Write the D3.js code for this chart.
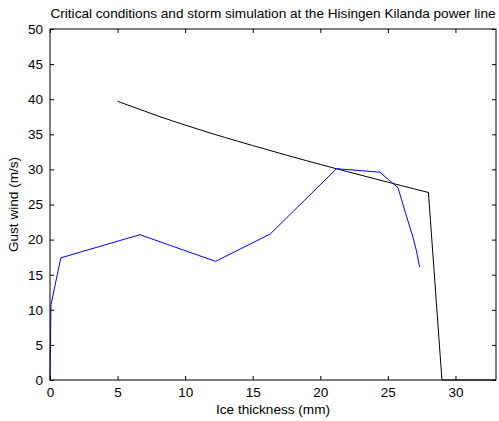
<!DOCTYPE html>
<meta charset="utf-8">
<style>
body { margin: 0; background: #fff; }
svg { display: block; }
text { font-family: "Liberation Sans", Arial, sans-serif; fill: #000; }
</style>
<body>
<script src="https://cdn.jsdelivr.net/npm/d3@7"></script>
<script>

// critical conditions curve (black)
var critIce  = [5, 6, 7, 8, 9, 10, 11, 12, 13, 14, 15, 16, 17, 18, 19, 20, 21, 22, 23, 24, 25, 26, 27, 28, 29, 33];
var critWind = [39.7, 39.0, 38.3, 37.6, 36.95, 36.32, 35.7, 35.1, 34.52, 33.95, 33.4, 32.85, 32.3, 31.76, 31.23, 30.71, 30.19, 29.68, 29.18, 28.68, 28.18, 27.69, 27.2, 26.71, 0, 0];

// storm simulation (blue)
var stormIce  = [0, 0.07, 0.8, 6.65, 12.25, 16.3, 21.2, 24.4, 25.75, 26.35, 26.85, 27.1, 27.35];
var stormWind = [0, 10.7, 17.4, 20.7, 16.9, 20.8, 30.1, 29.6, 27.4, 23.5, 20.4, 18.5, 16.1];

var xTicks = [0, 5, 10, 15, 20, 25, 30];
var yTicks = [0, 5, 10, 15, 20, 25, 30, 35, 40, 45, 50];

var width = 499, height = 421;
var margin = {top: 29, right: 3, bottom: 41, left: 50};

var x = d3.scaleLinear().domain([0, 33]).range([margin.left, width - margin.right]);
var y = d3.scaleLinear().domain([0, 50]).range([height - margin.bottom, margin.top]);

var svg = d3.select("body").append("svg")
    .attr("width", width)
    .attr("height", height);

var line = d3.line()
    .x(function(d) { return x(d[0]); })
    .y(function(d) { return y(d[1]); });

svg.append("path")
    .datum(critIce.map(function(v, i) { return [v, critWind[i]]; }))
    .attr("fill", "none")
    .attr("stroke", "#000")
    .attr("stroke-width", 1)
    .attr("d", line);

svg.append("path")
    .datum(stormIce.map(function(v, i) { return [v, stormWind[i]]; }))
    .attr("fill", "none")
    .attr("stroke", "#0000ff")
    .attr("stroke-width", 1)
    .attr("d", line);

// box with inward ticks on all sides
svg.append("g")
    .attr("transform", "translate(0," + y(0) + ")")
    .call(d3.axisBottom(x).tickValues(xTicks).tickSizeInner(-4).tickSizeOuter(0).tickPadding(7))
    .call(function(g) { g.select(".domain").remove(); });

svg.append("g")
    .attr("transform", "translate(0," + y(50) + ")")
    .call(d3.axisTop(x).tickValues(xTicks).tickSizeInner(-4).tickSizeOuter(0).tickFormat(""))
    .call(function(g) { g.select(".domain").remove(); });

svg.append("g")
    .attr("transform", "translate(" + x(0) + ",0)")
    .call(d3.axisLeft(y).tickValues(yTicks).tickSizeInner(-4).tickSizeOuter(0).tickPadding(7))
    .call(function(g) { g.select(".domain").remove(); });

svg.append("g")
    .attr("transform", "translate(" + x(33) + ",0)")
    .call(d3.axisRight(y).tickValues(yTicks).tickSizeInner(-4).tickSizeOuter(0).tickFormat(""))
    .call(function(g) { g.select(".domain").remove(); });

svg.append("rect")
    .attr("x", x(0))
    .attr("y", y(50))
    .attr("width", x(33) - x(0))
    .attr("height", y(0) - y(50))
    .attr("fill", "none")
    .attr("stroke", "#000")
    .attr("stroke-width", 1);

svg.selectAll(".tick text")
    .attr("font-family", "Liberation Sans, Arial, sans-serif")
    .attr("font-size", 13.5);

svg.append("text")
    .attr("x", (x(0) + x(33)) / 2)
    .attr("y", 18)
    .attr("text-anchor", "middle")
    .attr("font-size", 13.6)
    .text("Critical conditions and storm simulation at the Hisingen Kilanda power line");

svg.append("text")
    .attr("x", (x(0) + x(33)) / 2)
    .attr("y", 414)
    .attr("text-anchor", "middle")
    .attr("font-size", 13.6)
    .text("Ice thickness (mm)");

svg.append("text")
    .attr("transform", "translate(18," + (y(0) + y(50)) / 2 + ") rotate(-90)")
    .attr("text-anchor", "middle")
    .attr("font-size", 13.6)
    .text("Gust wind (m/s)");

</script>
</body>
